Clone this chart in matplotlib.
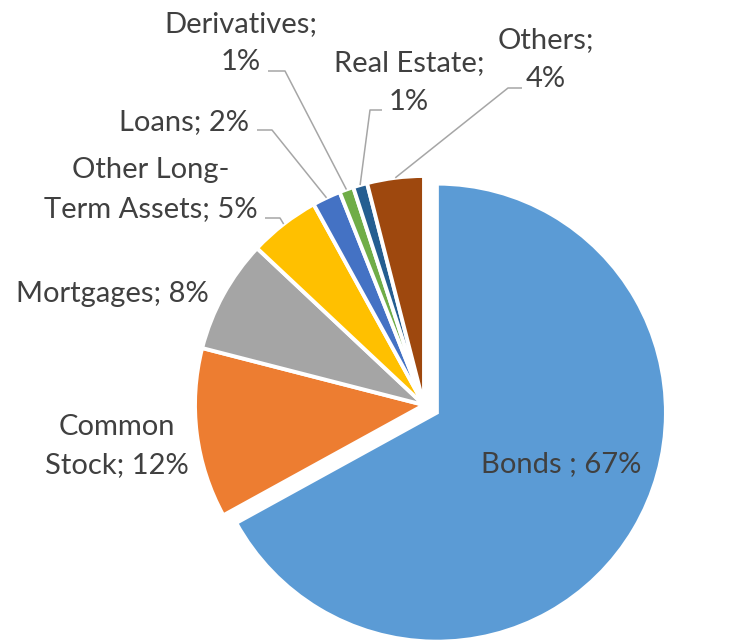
import math
import matplotlib
matplotlib.use("Agg")
import matplotlib.pyplot as plt

# Portfolio composition
categories = ["Bonds", "Common Stock", "Mortgages", "Other Long-Term Assets",
              "Loans", "Derivatives", "Real Estate", "Others"]
shares = [67, 12, 8, 5, 2, 1, 1, 4]
colors = ["#5B9BD5", "#ED7D31", "#A5A5A5", "#FFC000",
          "#4472C4", "#70AD47", "#255E91", "#9E480E"]

# Data label text, one list of lines per slice
label_lines = [
    ["Bonds ; 67%"],
    ["Common", "Stock; 12%"],
    ["Mortgages; 8%"],
    ["Other Long-", "Term Assets; 5%"],
    ["Loans; 2%"],
    ["Derivatives;", "1%"],
    ["Real Estate;", "1%"],
    ["Others;", "4%"],
]

W, H = 737, 642
fig = plt.figure(figsize=(W / 100, H / 100), dpi=100)
ax = fig.add_axes([0, 0, 1, 1])

def px(x, y):
    """Pixel position (origin top-left) to data coordinates."""
    return x, H - y

cx, cy = px(424, 405)
radius = 229

wedges, _ = ax.pie(shares, colors=colors, startangle=90, counterclock=False,
                   center=(cx, cy), radius=radius, frame=True,
                   wedgeprops=dict(edgecolor="white", linewidth=2.8))
ax.set_xlim(0, W)
ax.set_ylim(0, H)
ax.set_aspect("equal")
ax.axis("off")

# Pull the largest slice out along its bisector
total = sum(shares)
mid_angles = []
acc = 0
for s in shares:
    mid = 90 - 360 * (acc + s / 2) / total
    mid_angles.append(mid)
    acc += s
pull = 15
t = math.radians(mid_angles[0])
wedges[0].set_center((cx + pull * math.cos(t), cy + pull * math.sin(t)))

# Label placement: centre x and baseline y for each line (pixels)
label_pos = [
    (561, [472]),
    (117, [435, 473]),
    (112, [302]),
    (151, [178, 217]),
    (184, [130]),
    (241, [32, 70]),
    (409, [71, 110]),
    (546, [48, 87]),
]
text_color = "#404040"
for lines, (x, ys) in zip(label_lines, label_pos):
    for line, y in zip(lines, ys):
        ax.text(*px(x, y), line, ha="center", va="baseline",
                fontsize=21, color=text_color, family="Lato")

# Leader lines: tail start and elbow (pixels), end on the slice edge
leaders = {
    3: [(265, 218), (280, 218)],
    4: [(257, 130), (272, 130)],
    5: [(268, 71), (285, 71)],
    6: [(382, 110), (370, 110)],
    7: [(522, 88), (508, 88)],
}
for i, pts in leaders.items():
    t = math.radians(mid_angles[i])
    end = (cx + radius * math.cos(t), cy + radius * math.sin(t))
    xs = [px(*p)[0] for p in pts] + [end[0]]
    ys = [px(*p)[1] for p in pts] + [end[1]]
    ax.plot(xs, ys, color="#A6A6A6", linewidth=1.1, solid_capstyle="butt")

fig.savefig("out.png", dpi=100, facecolor="white")
